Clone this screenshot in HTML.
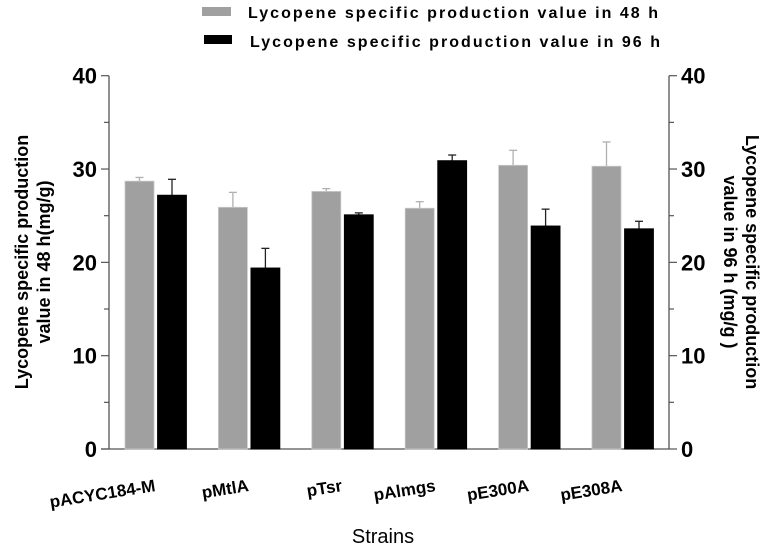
<!DOCTYPE html>
<html><head><meta charset="utf-8"><style>
html,body{margin:0;padding:0;background:#fff;}
svg{display:block;font-family:"Liberation Sans",Arial,sans-serif;}
</style></head><body>
<svg id="chart" width="774" height="549" viewBox="0 0 774 549">
<g>
 <rect x="202" y="7" width="29" height="9" fill="#a0a0a0"/>
 <text x="248" y="18" font-size="16" font-weight="bold" textLength="410">Lycopene specific production value in 48 h</text>
 <rect x="204" y="35" width="28" height="9" fill="#000"/>
 <text x="250" y="47" font-size="16" font-weight="bold" textLength="410">Lycopene specific production value in 96 h</text>
</g>
<g id="axes"></g>
<g id="bars"></g>
<text transform="translate(28,262) rotate(-90)" text-anchor="middle" font-size="18" font-weight="bold"><tspan x="0" dy="0">Lycopene specific production</tspan><tspan x="0" dy="22">value in 48 h(mg/g)</tspan></text>
<text transform="translate(746,262) rotate(90)" text-anchor="middle" font-size="18" font-weight="bold"><tspan x="0" dy="0">Lycopene specific production</tspan><tspan x="0" dy="22">value in 96 h (mg/g )</tspan></text>
<text x="383" y="543" text-anchor="middle" font-size="20">Strains</text>
</svg>
<script>
const categories = ["pACYC184-M","pMtlA","pTsr","pAlmgs","pE300A","pE308A"];
const values48 = [28.7,25.9,27.6,25.8,30.4,30.3];
const err48 = [0.4,1.6,0.3,0.7,1.6,2.6];
const values96 = [27.2,19.4,25.1,30.9,23.9,23.6];
const err96 = [1.7,2.1,0.2,0.6,1.8,0.8];
const yTicks = [0,10,20,30,40];

const NS="http://www.w3.org/2000/svg";
const x0=109, x1=669, yBase=449, yTop=75.7, yMax=40;
const y=v=>yBase-(v/yMax)*(yBase-yTop);
const groupX=i=>125+i*93.4;
const bw=29;
function mk(tag,attrs,parent){const e=document.createElementNS(NS,tag);for(const k in attrs)e.setAttribute(k,attrs[k]);parent.appendChild(e);return e;}
const axes=document.getElementById('axes'), bars=document.getElementById('bars');
let e;
e=mk('line',{x1:x0,y1:yTop,x2:x0,y2:yBase,stroke:'#555','stroke-width':1.3},axes);


e=mk('line',{x1:x1,y1:yTop,x2:x1,y2:yBase,stroke:'#555','stroke-width':1.3},axes);


e=mk('line',{x1:x0-8,y1:yBase,x2:x1,y2:yBase,stroke:'#555','stroke-width':1.3},axes);


for(let v=0;v<=40;v+=5){
  const major=v%10===0;
  mk('line',{x1:x0-(major?8:5),y1:y(v),x2:x0,y2:y(v),stroke:'#555','stroke-width':1.2},axes);
  mk('line',{x1:x1,y1:y(v),x2:x1+(major?8:5),y2:y(v),stroke:'#555','stroke-width':1.2},axes);
}
yTicks.forEach(v=>{
  let t=mk('text',{x:x0-12,y:y(v)+8,'text-anchor':'end','font-size':22,'font-weight':'bold'},axes);
  t.textContent=v;
  
  
  t=mk('text',{x:x1+12,y:y(v)+8,'text-anchor':'start','font-size':22,'font-weight':'bold'},axes);
  t.textContent=v;
  
  
});
categories.forEach((c,i)=>{
  const gx=groupX(i);
  const series=[[values48[i],err48[i],'#a0a0a0','#b0b0b0',gx,'48h'],[values96[i],err96[i],'#000','#222',gx+32.5,'96h']];
  series.forEach(([v,er,fill,ec,bx,tag])=>{
    const ee=mk('line',{x1:bx+bw/2,y1:y(v+er),x2:bx+bw/2,y2:y(v),stroke:ec,'stroke-width':1.3},bars);
    
    
    mk('line',{x1:bx+bw/2-4,y1:y(v+er),x2:bx+bw/2+4,y2:y(v+er),stroke:ec,'stroke-width':1.3},bars);
    const r=mk('rect',{x:bx,y:y(v),width:bw,height:yBase-y(v),fill:fill,stroke:tag==='48h'?'#c8c8c8':'#000','stroke-width':0.8},bars);
    
    
  });
  const cx=gx+31;
  const t=mk('text',{x:0,y:0,'text-anchor':'end','font-size':17,'font-weight':'bold',transform:`translate(${cx},${491}) rotate(-9)`},axes);
  t.textContent=c;
  
  
});
</script>
</body></html>
